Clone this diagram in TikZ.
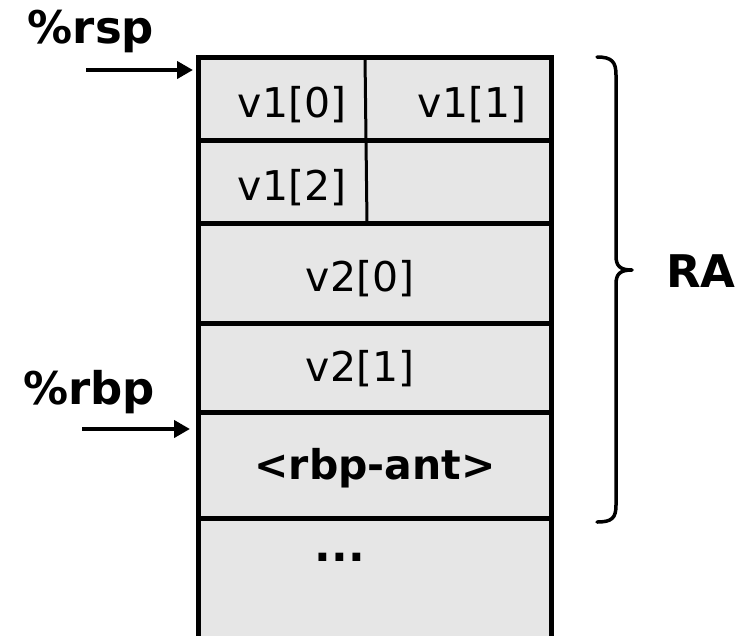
\documentclass[tikz,border=0pt]{standalone}
\usepackage{fontspec}
\setmainfont{DejaVu Sans}
\usetikzlibrary{arrows.meta}
\definecolor{cellgray}{HTML}{E6E6E6}
\begin{document}
\begin{tikzpicture}[x=1pt,y=-1pt,
  cell/.style={font=\fontsize{41}{48}\selectfont, inner sep=0pt, anchor=center},
  boldcell/.style={font=\fontsize{41}{48}\selectfont\bfseries, inner sep=0pt, anchor=center},
  reglabel/.style={font=\fontsize{45}{52}\selectfont\bfseries, inner sep=0pt, anchor=center},
  grid/.style={line width=5pt},
  ptr/.style={line width=4.5pt, -{Triangle[length=16pt,width=17pt]}},
  bracestyle/.style={line width=3.5pt, line cap=round, line join=round}]
\useasboundingbox (0,0) rectangle (741,635);
% stack box
\fill[cellgray] (198,57) rectangle (551,640);
\draw[grid] (198,640) -- (198,57) -- (551,57) -- (551,640);
\foreach \yy in {140,223,323,412,518} \draw[grid] (198,\yy) -- (551,\yy);
\draw[line width=3pt] (365,57) -- (367,223);
\coordinate (stacktop) at (193,70);
\coordinate (stackbp) at (190,429);
% cell texts
\node[cell] (v10) at (292,105) {v1[0]};
\node[cell] (v11) at (472,105) {v1[1]};
\node[cell] (v12) at (292,188) {v1[2]};
\node[cell] (v20) at (360,279) {v2[0]};
\node[cell] (v21) at (360,369) {v2[1]};
\node[boldcell] (rbpant) at (375,468) {<rbp-ant>};
\node[boldcell, font=\fontsize{44}{50}\selectfont\bfseries] (dots) at (340,557) {...};
% pointers
\node[reglabel] (rsp) at (91,31) {\%rsp};
\node[reglabel] (rbp) at (89,392) {\%rbp};
\coordinate (rspstart) at (86,70);
\coordinate (rbpstart) at (82,429);
\draw[ptr] (rspstart) -- (stacktop);
\draw[ptr] (rbpstart) -- (stackbp);
% brace
\coordinate (bracetip) at (632,270);
\draw[bracestyle] (597,57) .. controls (612,57) and (616,62) .. (616,75)
  -- (616,256) .. controls (616,266) and (620,270) .. (bracetip)
  .. controls (620,270) and (616,274) .. (616,284)
  -- (616,505) .. controls (616,518) and (612,522) .. (597,522);
\node[reglabel] (ra) at (701,271) {RA};
\end{tikzpicture}
\end{document}
